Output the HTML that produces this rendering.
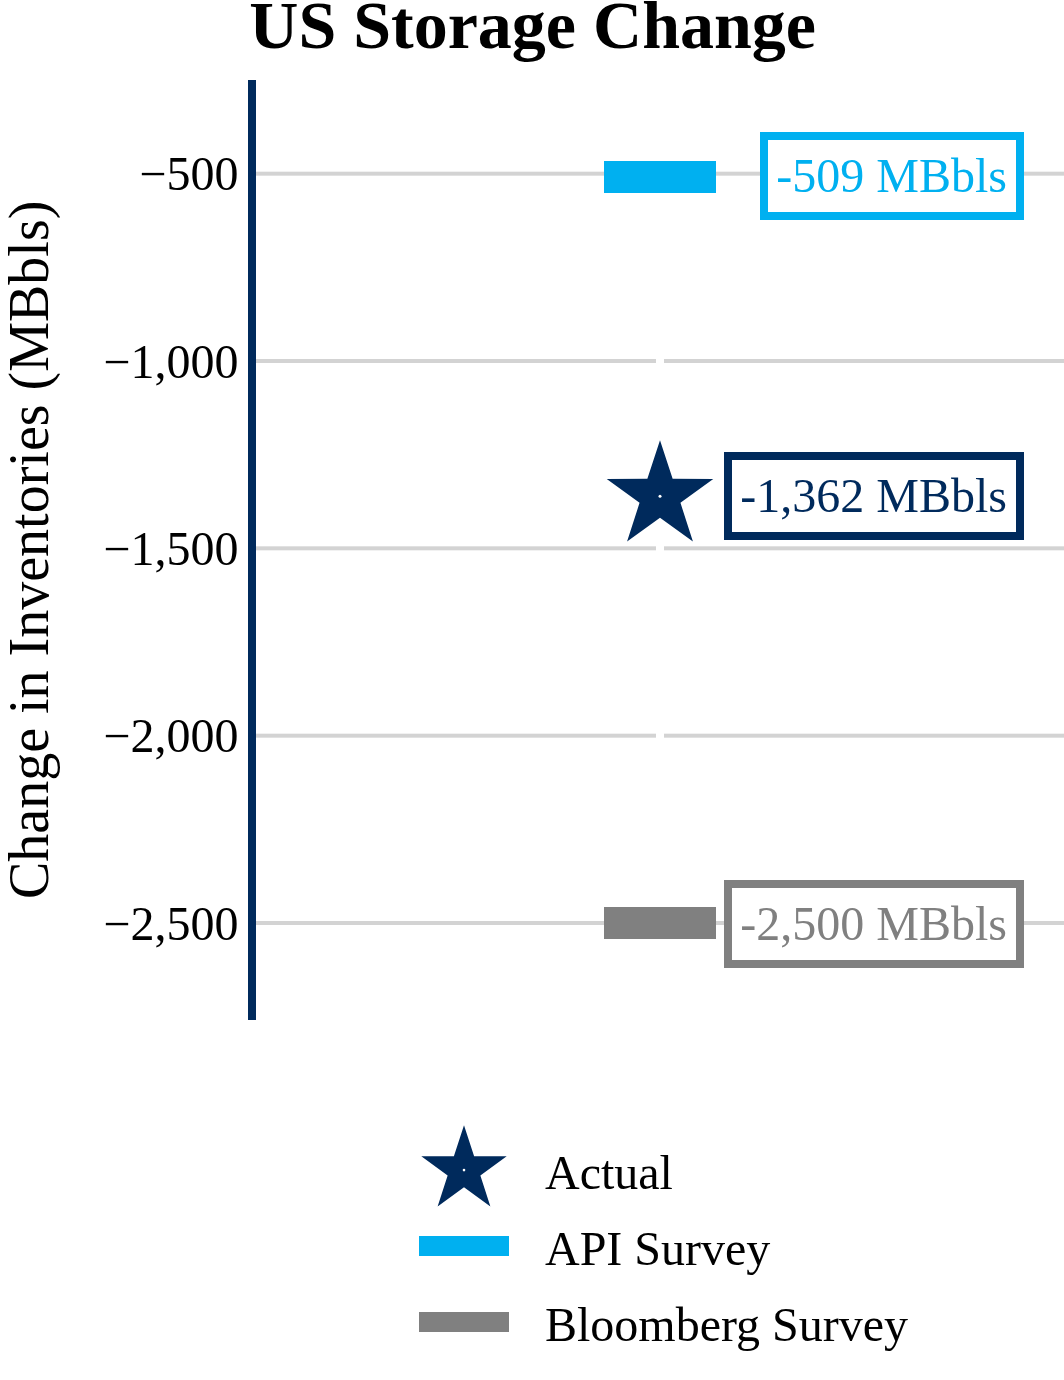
<!DOCTYPE html>
<html><head><meta charset="utf-8">
<style>
html,body{margin:0;padding:0;background:#fff;width:1064px;height:1380px;overflow:hidden}
svg{display:block;will-change:transform}
text{font-family:"Liberation Serif",serif}
</style></head><body>
<svg width="1064" height="1380" viewBox="0 0 1064 1380">
<rect x="0" y="0" width="1064" height="1380" fill="#fff"/>
<text id="title" x="249.3" y="47.5" font-size="68" font-weight="bold" fill="#000">US Storage Change</text>
<g fill="#d3d3d3"><rect x="256" y="171.67" width="808" height="4"/><rect x="256" y="359.00" width="808" height="4"/><rect x="256" y="546.33" width="808" height="4"/><rect x="256" y="733.67" width="808" height="4"/><rect x="256" y="921.00" width="808" height="4"/></g>
<rect x="656" y="80" width="8" height="940" fill="#fff"/>
<rect x="248" y="80" width="8" height="940" fill="#002a5c"/>
<g font-size="48" fill="#000" text-anchor="end"><text x="238.4" y="190.27">&#8722;500</text><text x="238.4" y="377.60">&#8722;1,000</text><text x="238.4" y="564.93">&#8722;1,500</text><text x="238.4" y="752.27">&#8722;2,000</text><text x="238.4" y="939.60">&#8722;2,500</text></g>
<text id="ylab" transform="translate(47.7,899) rotate(-90)" font-size="56" fill="#000">Change in Inventories (MBbls)</text>
<rect x="604" y="161" width="112" height="32" fill="#00b0f0"/>
<rect x="604" y="907" width="112" height="32" fill="#808080"/>
<polygon fill="#002a5c" points="660.00,440.20 672.64,478.81 713.26,478.90 680.45,502.84 692.92,541.50 660.00,517.70 627.08,541.50 639.55,502.84 606.74,478.90 647.36,478.81"/>
<circle cx="660" cy="496.2" r="1.5" fill="#fff"/>
<rect x="764" y="136" width="256" height="80" fill="#fff" stroke="#00b0f0" stroke-width="8"/>
<text id="lb1" x="1007" y="192" text-anchor="end" font-size="48" fill="#00b0f0">-509 MBbls</text>
<rect x="728" y="456" width="292" height="80" fill="#fff" stroke="#002a5c" stroke-width="8"/>
<text id="lb2" x="1007" y="512" text-anchor="end" font-size="48" fill="#002a5c">-1,362 MBbls</text>
<rect x="728" y="884" width="292" height="80" fill="#fff" stroke="#808080" stroke-width="8"/>
<text id="lb3" x="1007" y="940" text-anchor="end" font-size="48" fill="#808080">-2,500 MBbls</text>
<polygon fill="#002a5c" points="464.00,1125.20 474.11,1156.18 506.70,1156.23 480.36,1175.42 490.39,1206.42 464.00,1187.30 437.61,1206.42 447.64,1175.42 421.30,1156.23 453.89,1156.18"/>
<circle cx="464" cy="1170.1" r="1.3" fill="#fff"/>
<rect x="419" y="1236" width="90" height="20" fill="#00b0f0"/>
<rect x="419" y="1312" width="90" height="20" fill="#808080"/>
<g font-size="48" fill="#000">
<text id="leg1" x="545" y="1188.8">Actual</text>
<text id="leg2" x="545" y="1264.8">API Survey</text>
<text id="leg3" x="545" y="1340.7">Bloomberg Survey</text>
</g>
</svg>
</body></html>
